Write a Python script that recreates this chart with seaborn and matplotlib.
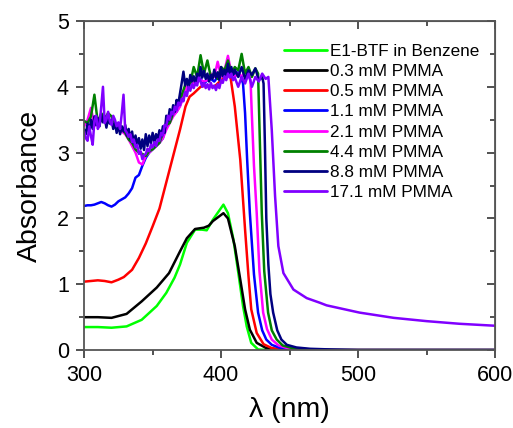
import numpy as np
import pandas as pd
import seaborn as sns
import matplotlib
matplotlib.use("Agg")
import matplotlib.pyplot as plt
from matplotlib.ticker import MultipleLocator

sns.set_style("ticks")
plt.rcParams['font.family'] = ['Liberation Sans', 'DejaVu Sans']
plt.rcParams['xtick.bottom'] = True
plt.rcParams['ytick.left'] = True
plt.rcParams['text.color'] = 'black'
plt.rcParams['axes.labelcolor'] = 'black'
plt.rcParams['xtick.labelcolor'] = 'black'
plt.rcParams['ytick.labelcolor'] = 'black'

# grids for the noisy film spectra (nm)
wl_grid = [300, 302.5, 305, 307.5, 310, 312.5, 315, 317.5, 320, 322.5, 325, 327.5,
           330, 332.5, 335, 337.5, 340, 342.5, 345, 347.5, 350, 352.5, 355, 357.5,
           360, 362.5, 365, 367.5, 370, 372.5, 375, 377.5, 380, 382.5, 385, 387.5,
           390, 392.5, 395, 397.5, 400, 402.5, 405, 407.5, 410]
wl_fine = list(np.arange(300, 410.01, 1.25))

# E1-BTF in benzene
wl_benz = [300, 310, 320, 331, 342, 353, 360, 366, 370, 375, 381, 386, 389.5, 394, 398,
           401.7, 405, 409, 412.6, 416, 418.7, 422, 427, 435, 450, 600]
ab_benz = [0.35, 0.35, 0.34, 0.36, 0.46, 0.67, 0.87, 1.10, 1.30, 1.63, 1.83, 1.83, 1.82,
           1.98, 2.10, 2.21, 2.08, 1.68, 1.17, 0.67, 0.36, 0.11, 0.01, 0.0, 0.0, 0.0]

# 0.3 mM PMMA
wl_03 = [300, 310, 320, 331, 342, 353, 362, 370, 375, 381, 387.5, 391, 394, 401.7, 405,
         410, 414, 417.5, 421, 426, 433, 445, 600]
ab_03 = [0.50, 0.50, 0.49, 0.55, 0.74, 0.95, 1.17, 1.50, 1.70, 1.84, 1.86, 1.89, 1.96,
         2.08, 2.00, 1.58, 1.07, 0.62, 0.31, 0.11, 0.03, 0.0, 0.0]

# 0.5 mM PMMA
wl_05 = [300, 305, 310, 315, 320, 325, 329, 335, 340, 345, 350, 355, 360, 365, 370, 374,
         377, 380, 385, 390, 395, 400, 403, 406.5, 410, 414, 417.5, 420, 422, 426, 431,
         437, 445, 460, 600]
ab_05 = [1.04, 1.05, 1.06, 1.05, 1.03, 1.07, 1.11, 1.22, 1.40, 1.62, 1.88, 2.15, 2.55,
         2.95, 3.35, 3.70, 3.85, 3.90, 4.00, 4.02, 4.00, 4.10, 4.15, 4.20, 3.70, 2.89,
         1.83, 1.12, 0.62, 0.26, 0.09, 0.03, 0.01, 0.0, 0.0]

# 1.1 mM PMMA
ab_11 = [2.19, 2.20, 2.20, 2.21, 2.23, 2.25, 2.23, 2.20, 2.18, 2.21, 2.26, 2.29, 2.32,
         2.38, 2.46, 2.62, 2.66, 2.80, 2.92, 3.00, 3.05, 3.10, 3.15, 3.22, 3.40, 3.48,
         3.58, 3.62, 3.72, 3.85, 3.95, 4.05, 4.02, 4.10, 4.12, 4.05, 4.10, 4.12, 4.08,
         4.15, 4.22, 4.18, 4.25, 4.15, 4.20]
wl_11_tail = [412.5, 414.5, 416, 417.5, 419, 421, 424, 427, 430, 433, 437, 442, 450, 460, 600]
ab_11_tail = [4.22, 4.15, 4.05, 3.60, 2.90, 2.08, 1.15, 0.57, 0.30, 0.16, 0.08, 0.04, 0.01, 0.0, 0.0]

# 2.1 mM PMMA
ab_21 = [3.40, 3.50, 3.68, 3.40, 3.50, 3.55, 3.48, 3.52, 3.45, 3.40, 3.35, 3.32, 3.28,
         3.20, 3.10, 3.00, 2.85, 2.82, 2.95, 3.00, 3.05, 3.10, 3.15, 3.22, 3.35, 3.45,
         3.55, 3.62, 3.70, 3.85, 4.00, 4.05, 4.05, 4.15, 4.10, 4.08, 4.10, 4.20, 4.15,
         4.38, 4.15, 4.25, 4.47, 4.20, 4.15]
wl_21_tail = [412.5, 415, 417.5, 420, 421.5, 422.4, 424, 426, 428, 430.7, 433.5, 437, 442, 450, 465, 600]
ab_21_tail = [4.20, 4.15, 4.25, 4.18, 4.10, 3.60, 2.80, 2.08, 1.20, 0.57, 0.32, 0.16, 0.07, 0.02, 0.0, 0.0]

# 4.4 mM PMMA
ab_44 = [3.48, 3.45, 3.55, 3.88, 3.45, 3.60, 3.52, 3.60, 3.55, 3.45, 3.40, 3.38, 3.30,
         3.20, 3.15, 3.05, 3.00, 2.98, 2.95, 3.02, 3.05, 3.10, 3.15, 3.30, 3.42, 3.45,
         3.60, 3.70, 3.80, 3.95, 4.10, 4.05, 4.30, 4.15, 4.48, 4.20, 4.40, 4.15, 4.20,
         4.12, 4.30, 4.25, 4.40, 4.20, 4.30]
wl_44_tail = [412.5, 415, 417.5, 420, 422.5, 425, 427, 428, 429.7, 431.5, 434.3, 437, 440.6,
              445, 452, 465, 480, 600]
ab_44_tail = [4.25, 4.50, 4.20, 4.30, 4.15, 4.28, 4.20, 3.40, 2.08, 1.20, 0.57, 0.30, 0.16,
              0.07, 0.03, 0.01, 0.0, 0.0]

# 8.8 mM PMMA (1.25 nm steps, 300-410)
ab_88 = [3.35, 3.28, 3.44, 3.30, 3.50, 3.36, 3.55, 3.42,
         3.52, 3.40, 3.58, 3.46, 3.55, 3.38, 3.52, 3.44,
         3.50, 3.36, 3.46, 3.30, 3.42, 3.28, 3.40, 3.32,
         3.42, 3.26, 3.36, 3.20, 3.32, 3.14, 3.26, 3.12,
         3.22, 3.06, 3.20, 3.04, 3.28, 3.10, 3.26, 3.14,
         3.30, 3.16, 3.28, 3.20, 3.34, 3.24, 3.40, 3.30,
         3.56, 3.48, 3.66, 3.56, 3.72, 3.62, 3.80, 3.74,
         3.90, 4.06, 4.23, 4.02, 4.12, 4.00, 4.18, 4.08,
         4.16, 4.04, 4.20, 4.10, 4.30, 4.14, 4.24, 4.12,
         4.20, 4.08, 4.18, 4.12, 4.26, 4.14, 4.22, 4.10,
         4.30, 4.16, 4.26, 4.18, 4.35, 4.20, 4.30, 4.18,
         4.26]
wl_88_tail = [412.5, 415, 417.5, 420, 422.5, 425, 427.5, 430, 431, 432, 433, 434.5, 436,
              438, 441, 444, 448, 455, 465, 480, 500, 600]
ab_88_tail = [4.15, 4.30, 4.12, 4.25, 4.18, 4.28, 4.10, 4.15, 4.05, 3.10, 2.00, 1.30, 0.85,
              0.57, 0.30, 0.16, 0.08, 0.04, 0.02, 0.01, 0.0, 0.0]

# 17.1 mM PMMA (1.25 nm steps, 300-410)
ab_171 = [3.32, 3.22, 3.18, 3.40, 3.25, 3.12, 3.48, 3.56,
          3.36, 3.42, 3.70, 4.00, 3.45, 3.50, 3.62, 3.48,
          3.42, 3.56, 3.50, 3.40, 3.46, 3.36, 3.60, 3.88,
          3.34, 3.30, 3.24, 3.28, 3.16, 3.20, 3.08, 3.12,
          2.98, 3.02, 2.90, 2.96, 2.98, 3.06, 3.02, 3.12,
          3.08, 3.16, 3.10, 3.20, 3.18, 3.30, 3.26, 3.42,
          3.40, 3.56, 3.50, 3.62, 3.58, 3.70, 3.64, 3.76,
          3.72, 3.82, 3.78, 3.92, 3.86, 4.00, 3.94, 4.04,
          3.98, 4.06, 4.02, 4.14, 4.08, 4.00, 4.06, 3.98,
          4.04, 3.96, 4.06, 3.98, 4.02, 3.95, 4.04, 3.98,
          4.10, 4.06, 4.16, 4.10, 4.20, 4.14, 4.20, 4.10,
          4.14]
wl_171_tail = [412.5, 415, 417.5, 420, 422.5, 425, 427.5, 430, 432.5, 434.5, 437, 439.4,
               441.8, 445.5, 452.8, 462.5, 472, 477, 501, 526, 550, 574, 600]
ab_171_tail = [4.00, 4.15, 4.05, 4.20, 4.00, 4.15, 4.08, 4.20, 4.12, 4.15, 3.34, 2.34,
               1.58, 1.17, 0.92, 0.79, 0.72, 0.68, 0.57, 0.49, 0.44, 0.40, 0.37]

labels = ['E1-BTF in Benzene', '0.3 mM PMMA', '0.5 mM PMMA', '1.1 mM PMMA',
          '2.1 mM PMMA', '4.4 mM PMMA', '8.8 mM PMMA', '17.1 mM PMMA']
colors = ['#00ff00', '#000000', '#ff0000', '#0000ff', '#ff00ff', '#008000', '#000080', '#8000ff']

series = [
    (wl_benz, ab_benz),
    (wl_03, ab_03),
    (wl_05, ab_05),
    (wl_grid + wl_11_tail, ab_11 + ab_11_tail),
    (wl_grid + wl_21_tail, ab_21 + ab_21_tail),
    (wl_grid + wl_44_tail, ab_44 + ab_44_tail),
    (wl_fine + wl_88_tail, ab_88 + ab_88_tail),
    (wl_fine + wl_171_tail, ab_171 + ab_171_tail),
]

frames = []
for lab, (x, y) in zip(labels, series):
    frames.append(pd.DataFrame({'wl': x, 'A': y, 'sample': lab}))
df = pd.concat(frames, ignore_index=True)

fig = plt.figure(figsize=(5.13, 4.28), dpi=100)
ax = fig.add_axes([0.164, 0.182, 0.801, 0.769])

sns.lineplot(data=df, x='wl', y='A', hue='sample', hue_order=labels, palette=colors,
             linewidth=1.8, estimator=None, sort=False, ax=ax)

ax.set_xlim(300, 600)
ax.set_ylim(0, 5)
ax.xaxis.set_major_locator(MultipleLocator(100))
ax.xaxis.set_minor_locator(MultipleLocator(50))
ax.yaxis.set_major_locator(MultipleLocator(1))
ax.yaxis.set_minor_locator(MultipleLocator(0.5))
ax.tick_params(which='both', bottom=True, left=True, color='#333333', width=1.2)
ax.tick_params(which='major', direction='out', length=6, labelsize=15.5, pad=5)
ax.tick_params(which='minor', direction='out', length=3.5)

for s in ax.spines.values():
    s.set_color('#555555')
    s.set_linewidth(1.3)

# mirrored inward ticks on top and right
top = ax.secondary_xaxis('top')
top.xaxis.set_major_locator(MultipleLocator(100))
top.xaxis.set_minor_locator(MultipleLocator(50))
top.tick_params(which='both', top=True, direction='in', color='#333333', width=1.2, labeltop=False)
top.tick_params(which='major', length=6)
top.tick_params(which='minor', length=3.5)
top.spines['top'].set_color('#555555')
right = ax.secondary_yaxis('right')
right.yaxis.set_major_locator(MultipleLocator(1))
right.yaxis.set_minor_locator(MultipleLocator(0.5))
right.tick_params(which='both', right=True, direction='in', color='#333333', width=1.2, labelright=False)
right.tick_params(which='major', length=6)
right.tick_params(which='minor', length=3.5)
right.spines['right'].set_color('#555555')

ax.set_xlabel('λ (nm)', fontsize=20.5, labelpad=8)
ax.set_ylabel('Absorbance', fontsize=20.5, labelpad=10)

leg = ax.legend(loc='upper left', bbox_to_anchor=(0.487, 0.93), frameon=False,
                fontsize=12.3, handlelength=2.5, handletextpad=0.2,
                labelspacing=0.3, borderpad=0, borderaxespad=0)
for h in leg.get_lines():
    h.set_linewidth(2)

fig.savefig('out.png', dpi=100)
